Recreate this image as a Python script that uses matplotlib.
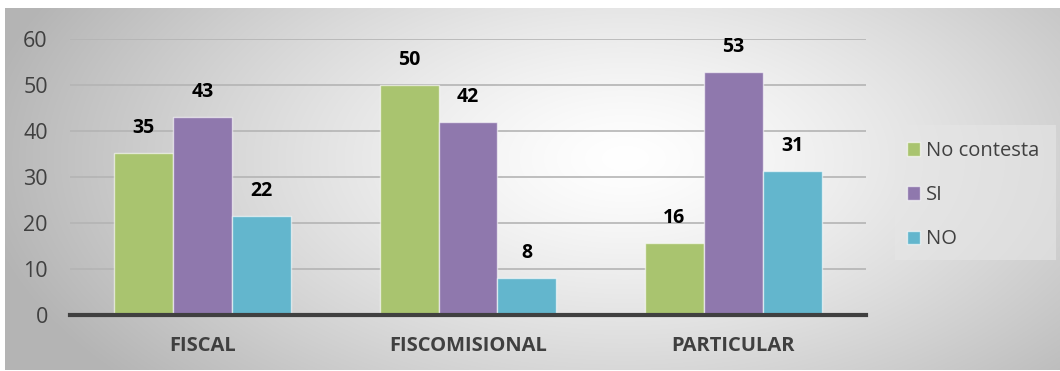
import numpy as np
import matplotlib
matplotlib.use("Agg")
import matplotlib.pyplot as plt
from matplotlib.patches import Patch, Rectangle

categories = ["FISCAL", "FISCOMISIONAL", "PARTICULAR"]
series_names = ["No contesta", "SI", "NO"]
no_contesta = [35.3, 50.0, 15.7]
si = [43.1, 42.0, 52.9]
no = [21.6, 8.0, 31.4]
yticks = [0, 10, 20, 30, 40, 50, 60]

colors = ["#a9c46f", "#8f78ad", "#63b6cd"]
W, H = 1060, 371
fig = plt.figure(figsize=(W / 100, H / 100), dpi=100)
fig.patch.set_facecolor("white")

# background gradient
bg = fig.add_axes([5 / W, 1 / H, 1 - 5 / W, 1 - 9 / H], zorder=-10)
yy, xx = np.mgrid[0:362, 0:1055]
d = np.sqrt(((xx - 620) / 620.0) ** 2 + ((yy - 150) / 330.0) ** 2)
g = 255 - 70 * np.clip(d, 0, 1.3) ** 1.3
g = np.clip(g, 180, 255) / 255.0
bg.imshow(np.dstack([g, g, g]), aspect="auto", interpolation="bilinear")
bg.axis("off")

ax = fig.add_axes([70 / W, 1 - 315 / H, (866 - 70) / W, (315 - 39) / H])
ax.patch.set_alpha(0)

x = np.arange(len(categories))
bw = 0.222
series = [no_contesta, si, no]
for i, (vals, c, name) in enumerate(zip(series, colors, series_names)):
    pos = x + (i - 1) * bw
    ax.bar(pos, vals, width=bw, color=c, edgecolor=(1, 1, 1, 0.6), linewidth=1, zorder=3, label=name)
    for px, v in zip(pos, vals):
        ax.annotate(f"{v:.0f}", (px, v), xytext=(0, 18), textcoords="offset points",
                    ha="center", va="center", fontsize=14, fontweight="bold",
                    family="Open Sans", color="black", zorder=4)

ax.set_xlim(-0.5, 2.5)
ax.set_ylim(0, 60)
ax.set_yticks(yticks)
ax.yaxis.grid(True, color="#b4b4b4", linewidth=1.2, zorder=0)
ax.set_axisbelow(True)
for s in ["top", "right", "left"]:
    ax.spines[s].set_visible(False)
ax.spines["bottom"].set_color("#404040")
ax.spines["bottom"].set_linewidth(3)
ax.spines["bottom"].set_zorder(5)
ax.tick_params(axis="y", length=0, pad=16, labelsize=15.5, labelcolor="#404040")
ax.tick_params(axis="x", length=0, pad=15, labelsize=14.5, labelcolor="#404040")
for t in ax.get_yticklabels():
    t.set_family("Open Sans")
ax.set_xticks(x)
ax.set_xticklabels(categories, fontweight="bold", family="Open Sans")

# legend panel
fig.patches.append(Rectangle((895 / W, 1 - 260 / H), (1056 - 895) / W, (260 - 125) / H,
                             transform=fig.transFigure, facecolor="#e6e6e6", alpha=0.6,
                             edgecolor="none", zorder=-5))
handles = [Patch(facecolor=c, edgecolor=(1, 1, 1, 0.6)) for c in colors]
leg = fig.legend(handles, series_names, loc="upper left",
                 bbox_to_anchor=(907 / W, 1 - 141 / H),
                 frameon=False, handlelength=0.65, handleheight=0.65,
                 handletextpad=0.3, labelspacing=1.2, borderpad=0, borderaxespad=0,
                 prop={"family": "Open Sans", "size": 14.5})
for t in leg.get_texts():
    t.set_color("#404040")

fig.savefig("out.png", dpi=100)
